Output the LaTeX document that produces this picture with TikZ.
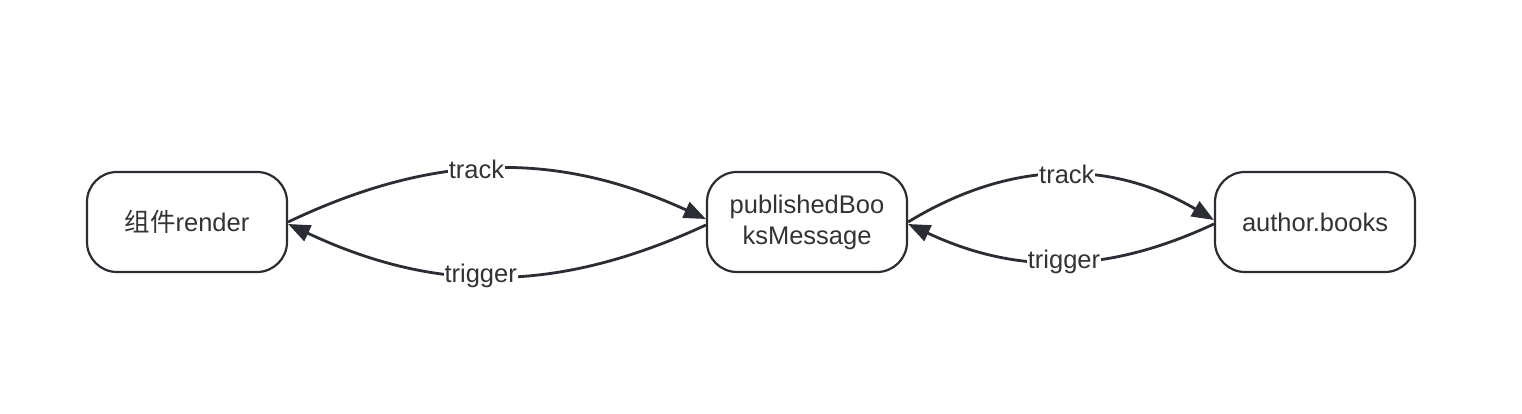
\documentclass[tikz,border=0pt]{standalone}
\usepackage{fontspec}
\setmainfont{Liberation Sans}
\newfontfamily\cjk{Noto Sans CJK SC}
\usetikzlibrary{arrows.meta}
\definecolor{drawColor}{RGB}{42,46,52}
\definecolor{textColor}{RGB}{51,51,51}
\begin{document}
\begin{tikzpicture}[x=1pt,y=1pt,
  state/.style={draw=drawColor,line width=2.2pt,rounded corners=30pt,minimum width=200pt,minimum height=100pt,inner sep=0pt,align=center,text=textColor,font=\fontsize{25.5}{31}\selectfont},
  flow/.style={draw=drawColor,line width=2.8pt,-{Triangle[length=22pt,width=17pt]}},
  tag/.style={fill=white,text=textColor,inner sep=1pt,font=\fontsize{25.5}{28}\selectfont}]
\path[use as bounding box,fill=white] (0,0) rectangle (1522,414);

\node[state] (render) at ( 187,192) {{\cjk 组件}render};
\node[state] (msg)    at ( 807,192) {publishedBoo\\ksMessage};
\node[state] (books)  at (1315,192) {author.books};

\draw[flow] (render.east) to[bend left=25] node[tag,pos=0.45] {track} ([yshift=3pt]msg.west);
\draw[flow] ([yshift=-3pt]msg.west) to[bend left=25] node[tag,pos=0.54] {trigger} ([yshift=-2pt]render.east);
\draw[flow] (msg.east) to[bend left=31] node[tag,pos=0.52] {track} ([yshift=2pt]books.west);
\draw[flow] ([yshift=-2pt]books.west) to[bend left=25] node[tag,pos=0.49] {trigger} ([yshift=-2pt]msg.east);
\end{tikzpicture}
\end{document}
